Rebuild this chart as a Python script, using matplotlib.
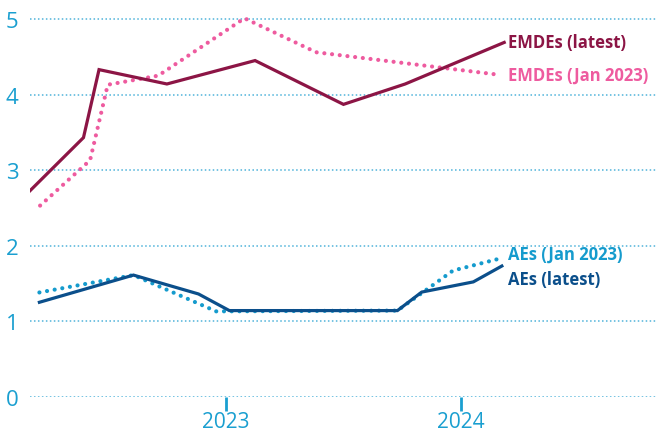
import matplotlib
matplotlib.use("Agg")
import matplotlib.pyplot as plt

# Decimal-year positions and values
emde_latest_x = [2022.168, 2022.397, 2022.463, 2022.751, 2023.125, 2023.500, 2023.762, 2024.182]
emde_latest_y = [2.72, 3.43, 4.33, 4.14, 4.45, 3.87, 4.14, 4.69]

emde_jan_x = [2022.213, 2022.425, 2022.500, 2022.714, 2023.080, 2023.384, 2024.165]
emde_jan_y = [2.53, 3.13, 4.13, 4.25, 5.01, 4.56, 4.26]

ae_latest_x = [2022.210, 2022.609, 2022.885, 2023.016, 2023.729, 2023.832, 2024.051, 2024.172]
ae_latest_y = [1.25, 1.61, 1.36, 1.14, 1.14, 1.385, 1.52, 1.73]

ae_jan_x = [2022.210, 2022.609, 2022.960, 2023.729, 2023.965, 2024.165]
ae_jan_y = [1.38, 1.61, 1.13, 1.14, 1.67, 1.83]

year_ticks = [2023, 2024]
year_labels = ["2023", "2024"]
y_ticks = [0, 1, 2, 3, 4, 5]

labels = ["EMDEs (latest)", "EMDEs (Jan 2023)", "AEs (Jan 2023)", "AEs (latest)"]

c_emde_latest = "#8c1545"
c_emde_jan = "#ee5b9f"
c_ae_latest = "#0b4f8b"
c_ae_jan = "#159bcd"
c_axis = "#1a9fd0"
c_grid = "#4fb3da"

plt.rcParams['font.family'] = ['Open Sans', 'DejaVu Sans']

fig = plt.figure(figsize=(6.56, 4.35), dpi=100)
ax = fig.add_axes([29.5 / 656, (435 - 397.7) / 435, 1 - 29.5 / 656, 397.7 / 435])
ax.set_xlim(2022.168, 2024.826)
ax.set_ylim(0, 5.265)

for s in ax.spines.values():
    s.set_visible(False)

for yv in y_ticks:
    ax.axhline(yv, color=c_grid, lw=1.1, linestyle=(0, (1, 1.6)), zorder=1)

dot = (0, (0.01, 1.85))
ax.plot(emde_jan_x, emde_jan_y, color=c_emde_jan, lw=3.0, linestyle=dot,
        dash_capstyle='round', zorder=3)
ax.plot(emde_latest_x, emde_latest_y, color=c_emde_latest, lw=2.3, zorder=4,
        solid_joinstyle='miter')
ax.plot(ae_jan_x, ae_jan_y, color=c_ae_jan, lw=3.0, linestyle=dot,
        dash_capstyle='round', zorder=3)
ax.plot(ae_latest_x, ae_latest_y, color=c_ae_latest, lw=2.3, zorder=4,
        solid_joinstyle='miter')

ax.set_yticks(y_ticks)
ax.set_yticklabels([str(v) for v in y_ticks])
ax.set_xticks(year_ticks)
ax.set_xticklabels(year_labels)
ax.tick_params(axis='y', length=0, pad=8, labelsize=16, labelcolor=c_axis)
ax.tick_params(axis='x', length=10, width=2, color=c_axis, direction='out',
               pad=0, labelsize=15, labelcolor=c_axis)

lx = 2023 + (508 - 225.5) / 235.7
ax.text(lx, 4.69, labels[0], color=c_emde_latest, fontsize=12, fontweight='bold',
        va='center', ha='left')
ax.text(lx, 4.26, labels[1], color=c_emde_jan, fontsize=12, fontweight='bold',
        va='center', ha='left')
ax.text(lx, 1.89, labels[2], color=c_ae_jan, fontsize=12, fontweight='bold',
        va='center', ha='left')
ax.text(lx, 1.56, labels[3], color=c_ae_latest, fontsize=12, fontweight='bold',
        va='center', ha='left')

fig.savefig("out.png", dpi=100)
